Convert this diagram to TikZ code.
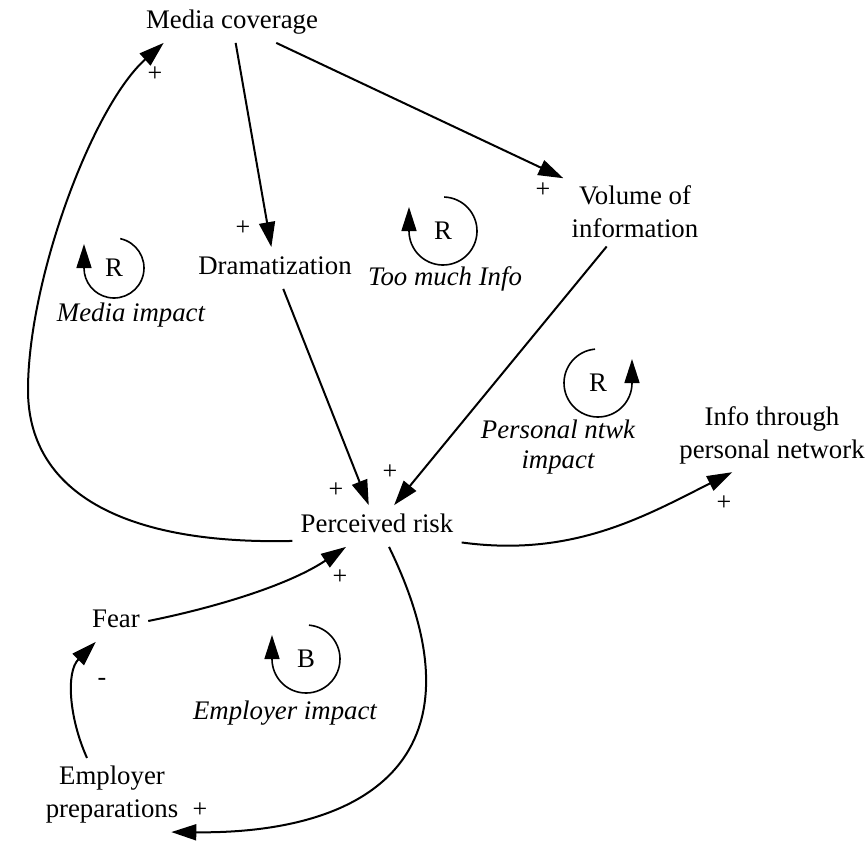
\documentclass[tikz,border=0pt]{standalone}
\usepackage{fontspec}
\setmainfont{Liberation Serif}
\usetikzlibrary{arrows.meta}
\begin{document}
\begin{tikzpicture}[x=0.5pt, y=-0.5pt,
  font=\fontsize{13.4}{16.5}\selectfont,
  var/.style={inner sep=4pt, text height=9.5pt, text depth=3pt},
  var2/.style={inner sep=4pt, align=center},
  link/.style={line width=1pt, -{Triangle[length=12.5pt, width=8pt]}},
  pol/.style={inner sep=0pt, font=\fontsize{13}{14}\selectfont},
  looplabel/.style={inner sep=0pt, font=\fontsize{13.4}{15}\selectfont\itshape, align=center},
  loopsign/.style={inner sep=0pt},
  looparc/.style={line width=0.8pt, -{Triangle[length=12pt, width=7.5pt]}}
]
\useasboundingbox (0,0) rectangle (867,841);

% variables
\node[var]  (MC) at (232,22)  {Media coverage};
\node[var2] (VI) at (635,212) {Volume of\\information};
\node[var]  (DR) at (275,268) {Dramatization};
\node[var]  (PR) at (377,526) {Perceived risk};
\node[var2] (IT) at (772,435) {Info through\\personal network};
\node[var]  (FE) at (116,621) {Fear};
\node[var2] (EP) at (112,795) {Employer\\preparations};

% causal links
\draw[link] (MC) -- (DR);
\draw[link] (MC) -- (VI);
\draw[link] (VI) -- (PR);
\draw[link] (DR) -- (PR);
\draw[link] (PR.190) .. controls (120,545) and (28,490) .. (28,390)
                     .. controls (28,280) and (92,107) .. (MC.197);
\draw[link] (PR.-11) .. controls +(110,15) and +(-89,45) .. (IT.223);
\draw[link] (FE.east) .. controls +(60,-12) and +(-60,40) .. (PR.-146);
\draw[link] ([xshift=6pt]PR.south) .. controls +(101,207) and +(200,2) .. (EP.-32);
\draw[link] (EP.124) .. controls +(-18,-40) and +(-30,30) .. (FE.226);

% polarities
\node[pol] (p1) at (243,228) {+};
\node[pol] (p2) at (543,190) {+};
\node[pol] (p3) at (390,472) {+};
\node[pol] (p4) at (336,490) {+};
\node[pol] (p5) at (155,74)  {+};
\node[pol] (p6) at (724,503) {+};
\node[pol] (p7) at (340,577) {+};
\node[pol] (p8) at (200,810) {+};
\node[pol] (p9) at (102,682) {-};

% loop markers
\node[loopsign] (Lmedia) at (114,268) {R};
\draw[looparc] ([shift={(78:15pt)}]Lmedia.center) arc[start angle=78, end angle=-180, radius=15pt] -- ++(0,12pt);
\node[looplabel] (Tmedia) at (131,315) {Media impact};

\node[loopsign] (Linfo) at (443,231) {R};
\draw[looparc] ([shift={(88:17pt)}]Linfo.center) arc[start angle=88, end angle=-180, radius=17pt] -- ++(0,12pt);
\node[looplabel] (Tinfo) at (445,279) {Too much Info};

\node[loopsign] (Lntwk) at (598,383) {R};
\draw[looparc] ([shift={(95:17pt)}]Lntwk.center) arc[start angle=95, end angle=360, radius=17pt] -- ++(0,12pt);
\node[looplabel] (Tntwk) at (558,447) {Personal ntwk\\impact};

\node[loopsign] (Lemp) at (306,659) {B};
\draw[looparc] ([shift={(85:17pt)}]Lemp.center) arc[start angle=85, end angle=-180, radius=17pt] -- ++(0,12pt);
\node[looplabel] (Temp) at (285,713) {Employer impact};
\end{tikzpicture}
\end{document}
